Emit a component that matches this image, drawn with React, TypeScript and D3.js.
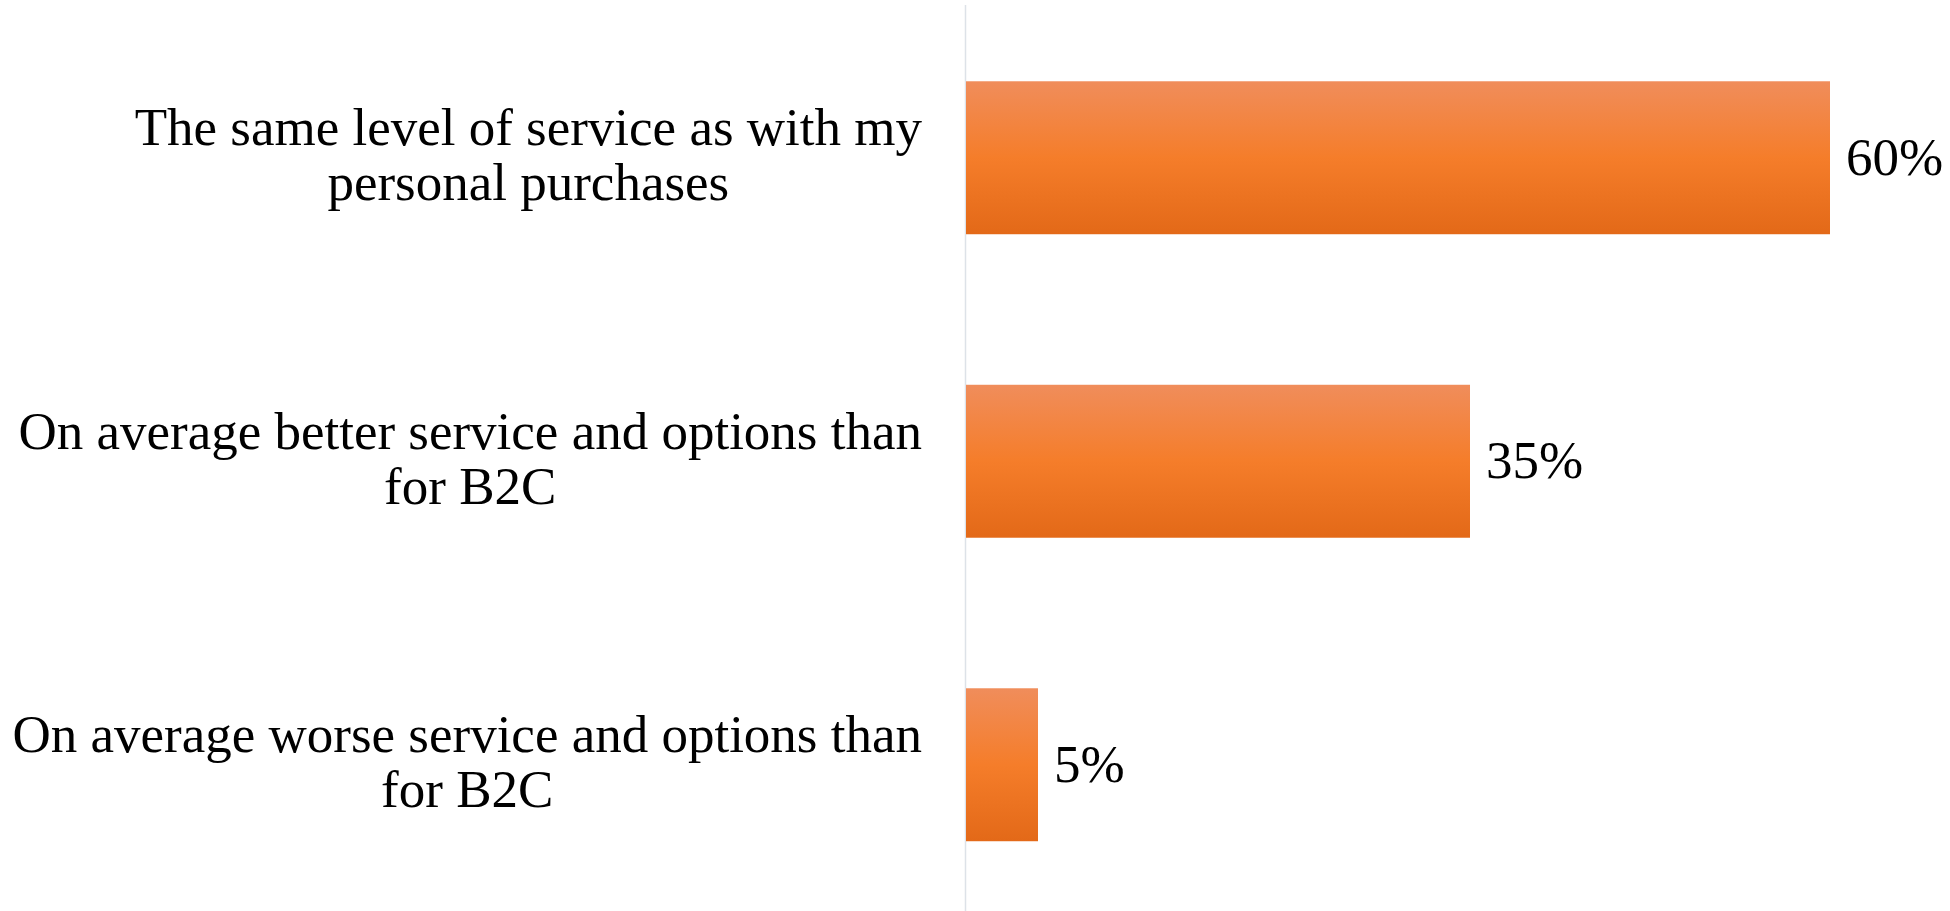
import React, { useEffect, useRef } from "react";
import * as d3 from "d3";

const categories: string[][] = [
  ["The same level of service as with my", "personal purchases"],
  ["On average better service and options than", "for B2C"],
  ["On average worse service and options than", "for B2C"],
];
const values: number[] = [60, 35, 5];
const valueLabels: string[] = ["60%", "35%", "5%"];

const W = 1950;
const H = 911;
const FONT = "'Liberation Serif', 'Times New Roman', serif";
const FS = 53;

export default function App() {
  const ref = useRef<SVGSVGElement>(null);

  useEffect(() => {
    const svg = d3.select(ref.current);
    svg.selectAll("*").remove();

    const x0 = 966;
    const x = d3.scaleLinear().domain([0, 60]).range([x0, 1830]);
    const y = d3
      .scaleBand<number>()
      .domain(d3.range(categories.length))
      .range([6, 916.5])
      .paddingInner(0.496)
      .paddingOuter(0.248);

    const defs = svg.append("defs");
    const grad = defs
      .append("linearGradient")
      .attr("id", "barGrad")
      .attr("x1", 0)
      .attr("y1", 0)
      .attr("x2", 0)
      .attr("y2", 1);
    grad.append("stop").attr("offset", "0%").attr("stop-color", "#f08d5b");
    grad.append("stop").attr("offset", "50%").attr("stop-color", "#f57d2a");
    grad.append("stop").attr("offset", "100%").attr("stop-color", "#e36918");

    svg
      .append("line")
      .attr("x1", x0 - 0.5)
      .attr("x2", x0 - 0.5)
      .attr("y1", 5)
      .attr("y2", H)
      .attr("stroke", "#dde2e8")
      .attr("stroke-width", 1.5);

    svg
      .selectAll("rect.bar")
      .data(values)
      .enter()
      .append("rect")
      .attr("class", "bar")
      .attr("x", x0)
      .attr("y", (_d, i) => y(i) as number)
      .attr("width", (d) => x(d) - x0)
      .attr("height", y.bandwidth())
      .attr("fill", "url(#barGrad)");

    svg
      .selectAll("text.val")
      .data(values)
      .enter()
      .append("text")
      .attr("class", "val")
      .attr("x", (d) => x(d) + 16)
      .attr("y", (_d, i) => (y(i) as number) + y.bandwidth() / 2 + 17)
      .attr("font-family", FONT)
      .attr("font-size", FS)
      .attr("fill", "#000")
      .text((_d, i) => valueLabels[i]);

    const rightEdge = 922;
    const lineH = 55;
    categories.forEach((lines, i) => {
      const cy = (y(i) as number) + y.bandwidth() / 2;
      const g = svg.append("g");
      const texts = lines.map((ln, j) =>
        g
          .append("text")
          .attr("text-anchor", "middle")
          .attr("y", cy - 12.5 + j * lineH)
          .attr("font-family", FONT)
          .attr("font-size", FS)
          .attr("fill", "#000")
          .text(ln)
      );
      const maxW = d3.max(texts, (t) => (t.node() as SVGTextElement).getComputedTextLength()) || 0;
      texts.forEach((t) => t.attr("x", rightEdge - maxW / 2));
    });
  }, []);

  return (
    <svg
      ref={ref}
      width={W}
      height={H}
      style={{ position: "absolute", left: 0, top: 0, background: "#fff" }}
    />
  );
}
